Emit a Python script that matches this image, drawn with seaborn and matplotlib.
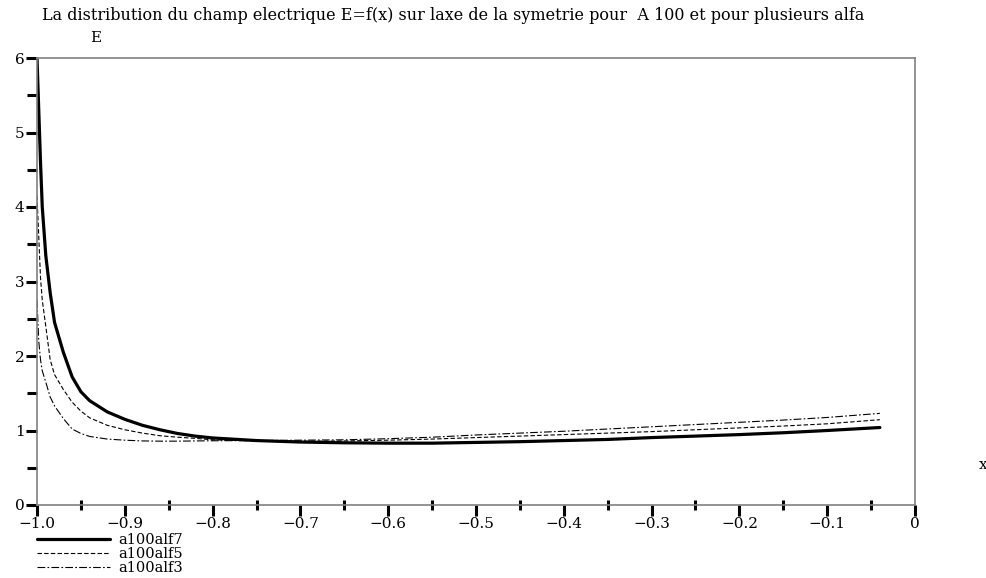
import numpy as np
import pandas as pd
import matplotlib
matplotlib.use("Agg")
import matplotlib.pyplot as plt
import seaborn as sns
from matplotlib.ticker import FixedLocator, FixedFormatter, MultipleLocator

# x positions along the symmetry axis
x_vals = [-1.0, -0.998, -0.996, -0.994, -0.99, -0.985, -0.98, -0.97, -0.96, -0.95,
          -0.94, -0.92, -0.9, -0.88, -0.86, -0.84, -0.82, -0.8, -0.75, -0.7,
          -0.65, -0.6, -0.55, -0.5, -0.45, -0.4, -0.35, -0.3, -0.25, -0.2,
          -0.15, -0.1, -0.04]

# E values
e_alf7 = [6.0, 5.3, 4.6, 4.0, 3.35, 2.85, 2.45, 2.05, 1.72, 1.52,
          1.40, 1.25, 1.15, 1.07, 1.01, 0.96, 0.925, 0.90, 0.865, 0.845,
          0.835, 0.83, 0.83, 0.84, 0.85, 0.865, 0.88, 0.905, 0.925, 0.945,
          0.97, 1.0, 1.04]
e_alf5 = [4.15, 3.6, 3.05, 2.75, 2.4, 1.95, 1.75, 1.55, 1.38, 1.26,
          1.17, 1.07, 1.01, 0.965, 0.93, 0.91, 0.895, 0.875, 0.86, 0.855,
          0.86, 0.87, 0.885, 0.905, 0.925, 0.945, 0.965, 0.985, 1.01, 1.035,
          1.06, 1.09, 1.145]
e_alf3 = [2.75, 2.2, 1.95, 1.8, 1.65, 1.45, 1.33, 1.16, 1.02, 0.96,
          0.92, 0.885, 0.87, 0.86, 0.857, 0.857, 0.86, 0.862, 0.865, 0.87,
          0.875, 0.89, 0.91, 0.94, 0.965, 0.99, 1.02, 1.05, 1.08, 1.11,
          1.14, 1.175, 1.23]

labels = ["a100alf7", "a100alf5", "a100alf3"]
x_ticks = [-1.0, -0.9, -0.8, -0.7, -0.6, -0.5, -0.4, -0.3, -0.2, -0.1, 0.0]
x_tick_labels = ["\u22121.0", "\u22120.9", "\u22120.8", "\u22120.7", "\u22120.6", "\u22120.5",
                 "\u22120.4", "\u22120.3", "\u22120.2", "\u22120.1", "0"]
y_ticks = [0, 1, 2, 3, 4, 5, 6]

sns.set_style("ticks")
plt.rcParams['font.family'] = ['DejaVu Serif', 'DejaVu Sans']
plt.rcParams['text.color'] = 'black'

fig = plt.figure(figsize=(9.87, 5.78), dpi=100)
ax = fig.add_axes([37 / 987, 1 - 505 / 578, (915 - 37) / 987, (505 - 58) / 578])

styles = [
    dict(linewidth=2.3, linestyle="-"),
    dict(linewidth=0.8, linestyle=(0, (4, 2))),
    dict(linewidth=0.8, linestyle=(0, (7, 2, 1.5, 2))),
]
for vals, lab, st in zip([e_alf7, e_alf5, e_alf3], labels, styles):
    sns.lineplot(x=x_vals, y=vals, ax=ax, color="black", label=lab, **st)

ax.set_xlim(-1.0, 0.0)
ax.set_ylim(0, 6)
ax.xaxis.set_major_locator(FixedLocator(x_ticks))
ax.xaxis.set_major_formatter(FixedFormatter(x_tick_labels))
ax.xaxis.set_minor_locator(MultipleLocator(0.05))
ax.yaxis.set_major_locator(FixedLocator(y_ticks))
ax.yaxis.set_minor_locator(MultipleLocator(0.5))

for side in ["top", "right", "left", "bottom"]:
    ax.spines[side].set_color("#808080")
    ax.spines[side].set_linewidth(1.2)

ax.tick_params(axis="x", which="major", direction="out", length=8, width=2.2,
               color="black", labelcolor="black", labelsize=11, pad=1)
ax.tick_params(axis="x", which="minor", direction="inout", length=7, width=2.2, color="black")
ax.tick_params(axis="y", which="major", direction="out", length=8, width=2.2,
               color="black", labelcolor="black", labelsize=11, pad=1)
ax.tick_params(axis="y", which="minor", direction="out", length=7, width=2.2, color="black")
ax.set_xlabel("")
ax.set_ylabel("")

fig.text(42 / 987, 1 - 15 / 578, "La distribution du champ electrique E=f(x) sur laxe de la symetrie pour  A 100 et pour plusieurs alfa",
         fontsize=11.5, ha="left", va="center", color="black")
fig.text(96 / 987, 1 - 38 / 578, "E", fontsize=11, ha="center", va="center", color="black")
fig.text(983 / 987, 1 - 465 / 578, "x", fontsize=11, ha="center", va="center", color="black")

ax.legend(loc="upper left", bbox_to_anchor=(0.0, -0.062), frameon=False,
          fontsize=10.5, handlelength=5.0, handletextpad=0.6, labelspacing=0.0,
          borderpad=0, borderaxespad=0)

fig.savefig("out.png", dpi=100)
